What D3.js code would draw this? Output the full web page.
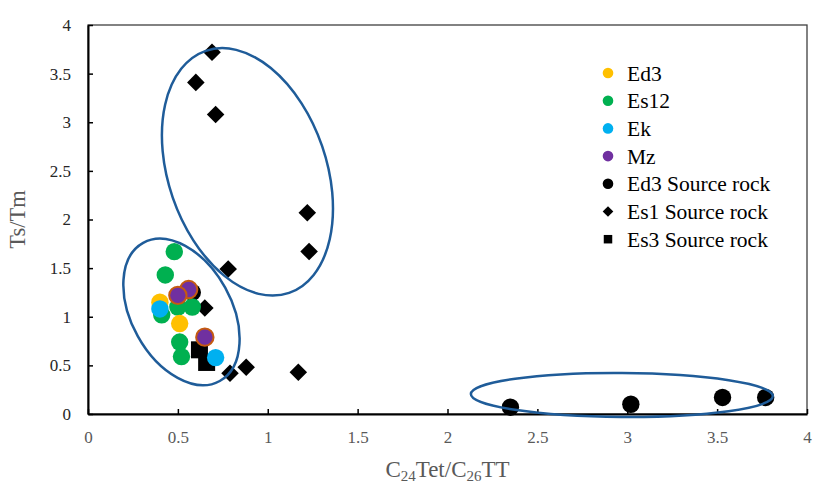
<!DOCTYPE html>
<html>
<head>
<meta charset="utf-8">
<script src="https://cdn.jsdelivr.net/npm/d3@7"></script>
<style>
  body { margin: 0; background: #fff; }
  text { font-family: "Liberation Serif", "Times New Roman", serif; }
</style>
</head>
<body>
<div id="chart"></div>
<script>
/**
 * CONSTANTS AND GLOBALS
 * */
const width = 813,
  height = 486,
  margin = { top: 25, bottom: 72, left: 88, right: 6 };

// series values
const ed3X = [0.40, 0.51];
const ed3Y = [1.15, 0.93];
const es12X = [0.48, 0.43, 0.41, 0.50, 0.58, 0.51, 0.52];
const es12Y = [1.67, 1.43, 1.02, 1.10, 1.10, 0.74, 0.59];
const ekX = [0.40, 0.71];
const ekY = [1.08, 0.58];
const mzX = [0.56, 0.50, 0.65];
const mzY = [1.28, 1.22, 0.79];
const ed3SrcX = [2.35, 3.02, 3.53, 3.77, 0.58];
const ed3SrcY = [0.07, 0.10, 0.17, 0.17, 1.25];
const es1SrcX = [0.69, 0.60, 0.71, 1.22, 1.23, 0.78, 0.65, 0.79, 0.88, 1.17];
const es1SrcY = [3.72, 3.41, 3.08, 2.07, 1.67, 1.49, 1.09, 0.42, 0.48, 0.43];
const es3SrcX = [0.62, 0.66];
const es3SrcY = [0.66, 0.53];

const xTicks = [0, 0.5, 1, 1.5, 2, 2.5, 3, 3.5, 4];
const yTicks = [0, 0.5, 1, 1.5, 2, 2.5, 3, 3.5, 4];

// series, in draw order (legend order kept separately)
const series = [
  { name: "Ed3 Source rock", xs: ed3SrcX, ys: ed3SrcY, shape: "circle", fill: "#000" },
  { name: "Es1 Source rock", xs: es1SrcX, ys: es1SrcY, shape: "diamond", fill: "#000" },
  { name: "Es3 Source rock", xs: es3SrcX, ys: es3SrcY, shape: "square", fill: "#000" },
  { name: "Es12", xs: es12X, ys: es12Y, shape: "circle", fill: "#00B050" },
  { name: "Ed3", xs: ed3X, ys: ed3Y, shape: "circle", fill: "#FFC000" },
  { name: "Ek", xs: ekX, ys: ekY, shape: "circle", fill: "#00B0F0" },
  { name: "Mz", xs: mzX, ys: mzY, shape: "circle", fill: "#7030A0", stroke: "#C55A11" },
];
const legendOrder = ["Ed3", "Es12", "Ek", "Mz", "Ed3 Source rock", "Es1 Source rock", "Es3 Source rock"];

// hand drawn ellipses (centre in data units)
const ellipses = [
  { cx: 0.887, cy: 2.49, rx: 79, ry: 128, angle: -19 },
  { cx: 0.52, cy: 1.05, rx: 50, ry: 79, angle: -29 },
  { cx: 2.97, cy: 0.195, rx: 151, ry: 22, angle: 0.4 },
];

const x = d3.scaleLinear().domain([0, 4]).range([margin.left, width - margin.right]);
const y = d3.scaleLinear().domain([0, 4]).range([height - margin.bottom, margin.top]);

const svg = d3.select("#chart")
  .append("svg")
  .attr("width", width)
  .attr("height", height);

// plot frame
svg.append("rect")
  .attr("x", x(0))
  .attr("y", y(4))
  .attr("width", x(4) - x(0))
  .attr("height", y(0) - y(4))
  .attr("fill", "none")
  .attr("stroke", "#404040")
  .attr("stroke-width", 1.3);

// axes, ticks pointing inwards
const xAxis = svg.append("g")
  .attr("transform", `translate(0,${y(0)})`)
  .call(d3.axisBottom(x).tickValues(xTicks).tickFormat(d => d)
    .tickSizeInner(-5).tickSizeOuter(0).tickPadding(17));
const yAxis = svg.append("g")
  .attr("transform", `translate(${x(0)},0)`)
  .call(d3.axisLeft(y).tickValues(yTicks).tickFormat(d => d)
    .tickSizeInner(-5).tickSizeOuter(0).tickPadding(17));

[xAxis, yAxis].forEach(g => {
  g.select(".domain").attr("stroke", "#000").attr("stroke-width", 2);
  g.selectAll(".tick line").attr("stroke", "#000").attr("stroke-width", 1.5);
  g.selectAll(".tick text").attr("font-size", 17).attr("font-family", "Liberation Serif");
});
xAxis.selectAll(".tick text").attr("fill", "#595959");
yAxis.selectAll(".tick text").attr("fill", "#262626");

const symbols = {
  circle: d3.symbol().type(d3.symbolCircle).size(Math.PI * 8.7 * 8.7),
  diamond: d3.symbol().type(d3.symbolSquare).size(12.4 * 12.4),
  square: d3.symbol().type(d3.symbolSquare).size(17 * 17),
};

series.forEach(s => {
  const pts = s.xs.map((v, i) => [v, s.ys[i]]);
  svg.append("g")
    .selectAll("path")
    .data(pts)
    .join("path")
    .attr("d", symbols[s.shape]())
    .attr("transform", d => `translate(${x(d[0])},${y(d[1])})` + (s.shape === "diamond" ? " rotate(45)" : ""))
    .attr("fill", s.fill)
    .attr("stroke", s.stroke || "none")
    .attr("stroke-width", s.stroke ? 2 : 0);
});

// ellipses on top of the markers
svg.append("g")
  .selectAll("ellipse")
  .data(ellipses)
  .join("ellipse")
  .attr("transform", d => `translate(${x(d.cx)},${y(d.cy)}) rotate(${d.angle})`)
  .attr("rx", d => d.rx)
  .attr("ry", d => d.ry)
  .attr("fill", "none")
  .attr("stroke", "#1F5C99")
  .attr("stroke-width", 2.5);

// legend
const legend = svg.append("g").attr("transform", "translate(608,73)");
const rows = legend.selectAll("g")
  .data(legendOrder.map(n => series.find(s => s.name === n)))
  .join("g")
  .attr("transform", (d, i) => `translate(0,${i * 27.7})`);
rows.append("path")
  .attr("d", d => d.shape === "circle"
    ? d3.symbol().type(d3.symbolCircle).size(Math.PI * 5.3 * 5.3)()
    : d.shape === "square"
      ? d3.symbol().type(d3.symbolSquare).size(8.5 * 8.5)()
      : d3.symbol().type(d3.symbolSquare).size(7.5 * 7.5)())
  .attr("transform", d => d.shape === "diamond" ? "rotate(45)" : null)
  .attr("fill", d => d.fill);
rows.append("text")
  .attr("x", 19)
  .attr("y", 0)
  .attr("dy", "0.35em")
  .attr("font-size", 21.5)
  .attr("fill", "#000")
  .text(d => d.name);

// axis titles
svg.append("text")
  .attr("transform", `translate(25,${(y(0) + y(4)) / 2}) rotate(-90)`)
  .attr("text-anchor", "middle")
  .attr("font-size", 22.5)
  .attr("fill", "#595959")
  .text("Ts/Tm");

const xTitle = svg.append("text")
  .attr("x", (x(0) + x(4)) / 2)
  .attr("y", 477)
  .attr("text-anchor", "middle")
  .attr("font-size", 23)
  .attr("fill", "#595959");
xTitle.append("tspan").text("C");
xTitle.append("tspan").attr("font-size", 15).attr("dy", 4).text("24");
xTitle.append("tspan").attr("dy", -4).text("Tet/C");
xTitle.append("tspan").attr("font-size", 15).attr("dy", 4).text("26");
xTitle.append("tspan").attr("dy", -4).text("TT");
</script>
</body>
</html>
